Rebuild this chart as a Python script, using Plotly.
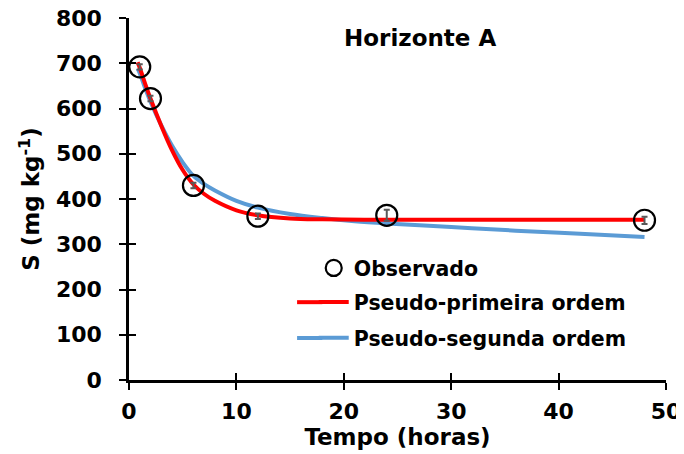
import plotly.graph_objects as go

# Observed data
t_obs = [1, 2, 6, 12, 24, 48]
s_obs = [692, 622, 430, 362, 364, 353]
s_err = [6, 6, 6, 6, 12, 8]

# Pseudo-first order curve
t_pfo = [0.8, 1, 1.5, 2, 3, 4, 5, 6, 7, 8, 10, 12, 15, 18, 24, 30, 36, 42, 48]
s_pfo = [702, 690, 655, 622, 562, 508, 464, 432, 411, 396, 375, 364, 357, 355, 354, 354, 354, 354, 354]

# Pseudo-second order curve
t_pso = [0.8, 1, 1.5, 2, 3, 4, 5, 6, 7, 8, 10, 12, 15, 18, 21, 24, 30, 36, 42, 48]
s_pso = [688, 678, 645, 615, 563, 518, 481, 451, 433, 419, 396, 381, 367, 358, 351, 346, 338, 330, 323, 316]

x_ticks = [0, 10, 20, 30, 40, 50]
y_ticks = [0, 100, 200, 300, 400, 500, 600, 700, 800]

FONT = "DejaVu Sans"
RED = "#FF0000"
BLUE = "#5B9BD5"

fig = go.Figure()
fig.add_trace(go.Scatter(x=t_pso, y=s_pso, mode="lines", name="Pseudo-segunda ordem",
                         line=dict(color=BLUE, width=4, shape="spline"),
                         legend="legend3"))
fig.add_trace(go.Scatter(x=t_pfo, y=s_pfo, mode="lines", name="Pseudo-primeira ordem",
                         line=dict(color=RED, width=4, shape="spline"),
                         legend="legend2"))
fig.add_trace(go.Scatter(x=t_obs, y=s_obs, mode="markers", name="Observado",
                         marker=dict(symbol="circle-open", size=21, color="black",
                                     line=dict(width=2.2, color="black")),
                         error_y=dict(type="data", array=s_err, color="#595959",
                                      thickness=2, width=3),
                         legend="legend"))
# invisible trace for overlay axes (crossing ticks)
fig.add_trace(go.Scatter(x=[None], y=[None], xaxis="x2", yaxis="y2", showlegend=False,
                         hoverinfo="skip"))

axis_common = dict(showgrid=False, zeroline=False, linecolor="black", linewidth=2.5,
                   tickcolor="black", tickwidth=2, ticklen=7, automargin=False,
                   ticklabeloverflow="allow",
                   tickfont=dict(family=FONT, size=22, color="black", weight="bold"))
overlay_common = dict(showline=False, showticklabels=False, showgrid=False, zeroline=False,
                      tickcolor="black", tickwidth=2, ticklen=7, automargin=False,
                      ticks="inside")

LEG_FONT = dict(family=FONT, size=20.5, color="black", weight="bold")
LX = 0.344
ROWS = [0.309, 0.215, 0.116]

fig.update_layout(
    width=676, height=446,
    margin=dict(l=121, r=18, t=10, b=74),
    paper_bgcolor="white", plot_bgcolor="white",
    font=dict(family=FONT, color="black"),
    showlegend=True,
    xaxis=dict(range=[0, 50], tickvals=x_ticks, ticks="outside", showline=True,
               ticklabelstandoff=3,
               title=dict(text="Tempo (horas)", standoff=5,
                          font=dict(family=FONT, size=23, color="black", weight="bold")),
               **axis_common),
    yaxis=dict(range=[0, 800], tickvals=y_ticks, ticks="outside", showline=True,
               ticklabelstandoff=13,
               title=dict(text="S (mg kg<sup>-1</sup>)", standoff=10,
                          font=dict(family=FONT, size=23, color="black", weight="bold")),
               **axis_common),
    xaxis2=dict(range=[0, 50], tickvals=x_ticks, overlaying="x", anchor="y2", **overlay_common),
    yaxis2=dict(range=[0, 800], tickvals=y_ticks, overlaying="y", anchor="x2", **overlay_common),
    legend=dict(x=LX, y=ROWS[0], xanchor="left", yanchor="middle", bgcolor="rgba(0,0,0,0)",
                font=LEG_FONT),
    legend2=dict(x=LX, y=ROWS[1], xanchor="left", yanchor="middle", bgcolor="rgba(0,0,0,0)",
                 font=LEG_FONT),
    legend3=dict(x=LX, y=ROWS[2], xanchor="left", yanchor="middle", bgcolor="rgba(0,0,0,0)",
                 font=LEG_FONT),
    annotations=[dict(text="Horizonte A", x=0.542, y=0.945, xref="paper", yref="paper",
                      xanchor="center", yanchor="middle", showarrow=False,
                      font=dict(family=FONT, size=23, color="black", weight="bold"))],
    shapes=[
        dict(type="line", xref="paper", yref="paper", x0=0.313, x1=0.36,
             y0=ROWS[1], y1=ROWS[1], line=dict(color=RED, width=4)),
        dict(type="line", xref="paper", yref="paper", x0=0.313, x1=0.36,
             y0=ROWS[2], y1=ROWS[2], line=dict(color=BLUE, width=4)),
    ],
)

fig.write_html("out.html")
